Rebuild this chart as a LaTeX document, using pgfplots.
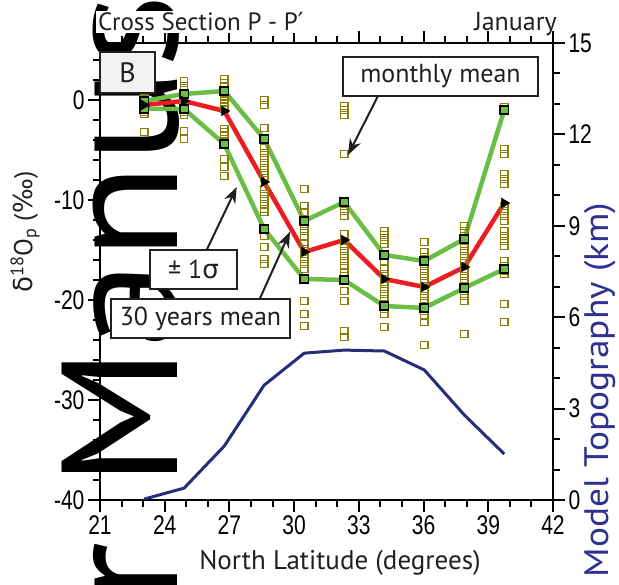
\documentclass[border=0pt]{standalone}
\usepackage{fontspec}
\setmainfont{PT Sans}
\newfontfamily\symfont{DejaVu Sans}
\newfontfamily\tickfont[FakeStretch=0.78]{Liberation Sans}
\newfontfamily\wmfont[FakeStretch=1.07]{PT Sans}
\newfontfamily\widefont[FakeStretch=1.1]{PT Sans}
\usepackage{pgfplots}
\pgfplotsset{compat=1.18}
\usetikzlibrary{arrows.meta}
\definecolor{lgreen}{RGB}{106,190,69}
\definecolor{lred}{RGB}{237,28,36}
\definecolor{olive}{RGB}{140,125,10}
\definecolor{navy}{RGB}{40,45,120}
\definecolor{navylab}{RGB}{46,49,146}
\definecolor{boxline}{RGB}{35,31,32}
\definecolor{boxgray}{RGB}{242,242,242}
\begin{document}
\begin{tikzpicture}[x=1pt,y=1pt]
% watermark (behind the chart)
\node[rotate=90, anchor=base west, inner sep=0pt, font=\wmfont\fontsize{165}{165}\selectfont, text=black] at (77,12) {Manus};
\node[rotate=90, anchor=base east, inner sep=0pt, font=\wmfont\fontsize{165}{165}\selectfont, text=black] at (77,-42) {r};
\begin{axis}[
  name=main,
  scale only axis, width=453pt, height=457pt,
  xmin=21, xmax=42, ymin=-40, ymax=5.7,
  xtick={21,24,...,42}, minor x tick num=2,
  ytick={-40,-30,-20,-10,0}, yticklabels={-40,-30,-20,-10,0},
  minor ytick={-38,-36,...,4},
  tick align=outside, xtick pos=both, xticklabel pos=lower, ytick pos=left,
  major tick length=12pt, minor tick length=7pt,
  every tick/.style={black, line width=2pt},
  axis line style={line width=2.5pt},
  /pgf/number format/assume math mode=true,
  ticklabel style={font=\tickfont\fontsize{27}{30}\selectfont},
  clip=false,
]
\addplot[only marks, mark=square, mark size=3.6pt, olive, line width=1.5pt] coordinates {
(23.05,0.2)(23.05,-0.1)(23.05,-0.3)(23.05,-0.5)(23.05,-0.7)(23.05,-0.9)(23.05,-1.0)(23.05,-1.2)(23.05,-1.4)(23.05,-3.2)
(24.90,1.9)(24.90,1.4)(24.90,1.0)(24.90,0.6)(24.90,0.3)(24.90,0.0)(24.90,-0.3)(24.90,-0.6)(24.90,-0.9)(24.90,-1.2)(24.90,-1.5)(24.90,-3.1)(24.90,-3.9)
(26.76,2.1)(26.76,1.7)(26.76,1.3)(26.76,0.9)(26.76,0.6)(26.76,0.3)(26.76,0.0)(26.76,-0.3)(26.76,-0.6)(26.76,-0.9)(26.76,-2.9)(26.76,-3.2)(26.76,-3.5)(26.76,-4.1)(26.76,-5.9)(26.76,-6.7)(26.76,-7.6)
(28.61,0.0)(28.61,-0.5)(28.61,-2.8)(28.61,-3.9)(28.61,-4.8)(28.61,-5.3)(28.61,-5.8)(28.61,-6.3)(28.61,-6.8)(28.61,-7.3)(28.61,-7.8)(28.61,-8.9)(28.61,-9.4)(28.61,-9.9)(28.61,-10.4)(28.61,-10.9)(28.61,-11.2)(28.61,-13.0)(28.61,-13.6)(28.61,-14.7)(28.61,-15.9)(28.61,-16.4)
(30.47,-8.9)(30.47,-10.6)(30.47,-11.2)(30.47,-12.1)(30.47,-12.6)(30.47,-13.1)(30.47,-13.6)(30.47,-14.4)(30.47,-14.9)(30.47,-15.4)(30.47,-15.9)(30.47,-16.4)(30.47,-16.9)(30.47,-17.9)(30.47,-20.1)(30.47,-21.4)(30.47,-22.6)
(32.32,-0.6)(32.32,-1.0)(32.32,-1.5)(32.32,-5.4)(32.32,-10.1)(32.32,-10.6)(32.32,-11.1)(32.32,-11.6)(32.32,-13.4)(32.32,-14.1)(32.32,-14.6)(32.32,-15.1)(32.32,-15.6)(32.32,-16.1)(32.32,-16.6)(32.32,-17.2)(32.32,-17.6)(32.32,-18.1)(32.32,-19.1)(32.32,-20.1)(32.32,-23.1)(32.32,-23.7)
(34.18,-13.1)(34.18,-13.5)(34.18,-14.0)(34.18,-14.4)(34.18,-15.4)(34.18,-16.1)(34.18,-16.9)(34.18,-17.4)(34.18,-17.9)(34.18,-18.4)(34.18,-18.9)(34.18,-19.4)(34.18,-19.9)(34.18,-20.4)(34.18,-20.9)(34.18,-21.4)(34.18,-22.7)
(36.03,-14.2)(36.03,-15.2)(36.03,-15.7)(36.03,-16.1)(36.03,-16.6)(36.03,-17.1)(36.03,-17.6)(36.03,-18.1)(36.03,-18.6)(36.03,-19.1)(36.03,-19.6)(36.03,-20.1)(36.03,-20.6)(36.03,-21.1)(36.03,-21.6)(36.03,-22.2)(36.03,-24.5)
(37.89,-12.6)(37.89,-13.1)(37.89,-13.6)(37.89,-14.1)(37.89,-14.6)(37.89,-15.1)(37.89,-15.6)(37.89,-16.1)(37.89,-16.6)(37.89,-17.1)(37.89,-17.6)(37.89,-18.1)(37.89,-18.6)(37.89,-19.1)(37.89,-19.6)(37.89,-20.1)(37.89,-23.4)
(39.74,-0.7)(39.74,-1.1)(39.74,-4.9)(39.74,-5.4)(39.74,-7.4)(39.74,-7.9)(39.74,-8.4)(39.74,-10.6)(39.74,-11.1)(39.74,-11.6)(39.74,-12.1)(39.74,-13.1)(39.74,-13.6)(39.74,-14.1)(39.74,-14.6)(39.74,-16.1)(39.74,-16.6)(39.74,-17.1)(39.74,-17.4)(39.74,-20.4)(39.74,-22.2)
};
% +1 sigma
\addplot[lgreen, line width=4.5pt, mark=square*, mark size=4.2pt, mark options={fill=lgreen, draw=black, line width=1.6pt}] coordinates {
(23.05,-0.1)(24.90,0.6)(26.76,0.9)(28.61,-3.9)(30.47,-12.1)(32.32,-10.2)(34.18,-15.5)(36.03,-16.1)(37.89,-13.9)(39.74,-1.0)};
% -1 sigma
\addplot[lgreen, line width=4.5pt, mark=square*, mark size=4.2pt, mark options={fill=lgreen, draw=black, line width=1.6pt}] coordinates {
(23.05,-0.9)(24.90,-0.9)(26.76,-4.4)(28.61,-12.9)(30.47,-17.9)(32.32,-18.0)(34.18,-20.6)(36.03,-20.8)(37.89,-18.8)(39.74,-16.9)};
% 30 years mean
\addplot[lred, line width=4.5pt, mark=triangle*, mark size=5.5pt, mark options={fill=black, draw=black, rotate=-90, line width=0.5pt}] coordinates {
(23.05,-0.5)(24.90,-0.1)(26.76,-1.1)(28.61,-8.2)(30.47,-15.2)(32.32,-14.0)(34.18,-17.9)(36.03,-18.7)(37.89,-16.7)(39.74,-10.3)};
\end{axis}
\begin{axis}[
  scale only axis, width=453pt, height=457pt,
  xmin=21, xmax=42, ymin=0, ymax=15,
  hide x axis, axis y line*=right,
  ytick={0,3,...,15}, minor y tick num=2,
  tick align=outside,
  major tick length=12pt, minor tick length=7pt,
  every tick/.style={black, line width=2pt},
  axis line style={line width=2.5pt},
  /pgf/number format/assume math mode=true,
  ticklabel style={font=\tickfont\fontsize{27}{30}\selectfont},
]
\addplot[navy, line width=3pt] coordinates {
(23.05,0.03)(24.90,0.39)(26.76,1.77)(28.61,3.77)(30.47,4.82)(32.32,4.92)(34.18,4.89)(36.03,4.27)(37.89,2.79)(39.74,1.51)};
\end{axis}
% annotations
\draw[boxline, fill=boxgray, line width=2pt] (0,407) rectangle (55,448);
\node[font=\fontsize{28}{30}\selectfont, text=boxline] at (27.5,427.5) {B};
\draw[boxline, fill=white, line width=2.5pt] (243,404) rectangle (438,443);
\node[font=\fontsize{26}{30}\selectfont, text=boxline] at (340.5,423.5) {monthly mean};
\draw[boxline, line width=2pt, -{Stealth[inset=5pt, length=16pt, width=12pt]}] (278,404) -- (248,345);
\draw[boxline, fill=white, line width=2.5pt] (50,211) rectangle (137,250);
\node[font=\fontsize{26}{30}\selectfont, text=boxline] at (93.5,230.5) {± 1{\symfont σ}};
\draw[boxline, line width=2pt, -{Stealth[inset=5pt, length=16pt, width=12pt]}] (106.7,250) -- (136.7,313);
\draw[boxline, fill=white, line width=2.5pt] (11,162) rectangle (190,201);
\node[font=\fontsize{26}{30}\selectfont, text=boxline] at (100.5,181.5) {30 years mean};
\draw[boxline, line width=2pt, -{Stealth[inset=5pt, length=16pt, width=12pt]}] (160,201.7) -- (190,268.3);
% titles and labels
\node[anchor=base west, inner sep=2pt, fill=white, font=\fontsize{25}{30}\selectfont, text=boxline] at (-4,469) {Cross Section P - P{\symfont ′}};
\node[anchor=base east, inner sep=0pt, font=\fontsize{26}{30}\selectfont, text=boxline] at (457,469) {January};
\node[font=\fontsize{27}{30}\selectfont, text=boxline] at (240,-63) {North Latitude (degrees)};
\node[rotate=90, font=\fontsize{26}{30}\selectfont, text=boxline] at (-75,268) {{\symfont δ}\textsuperscript{18}O\textsubscript{p} ({\symfont ‰})};
\node[rotate=90, font=\widefont\fontsize{34}{36}\selectfont, text=navylab] at (500,110) {Model Topography (km)};
\pgfresetboundingbox
\path[use as bounding box] (-100,-85) rectangle (519,500);
\end{tikzpicture}
\end{document}
